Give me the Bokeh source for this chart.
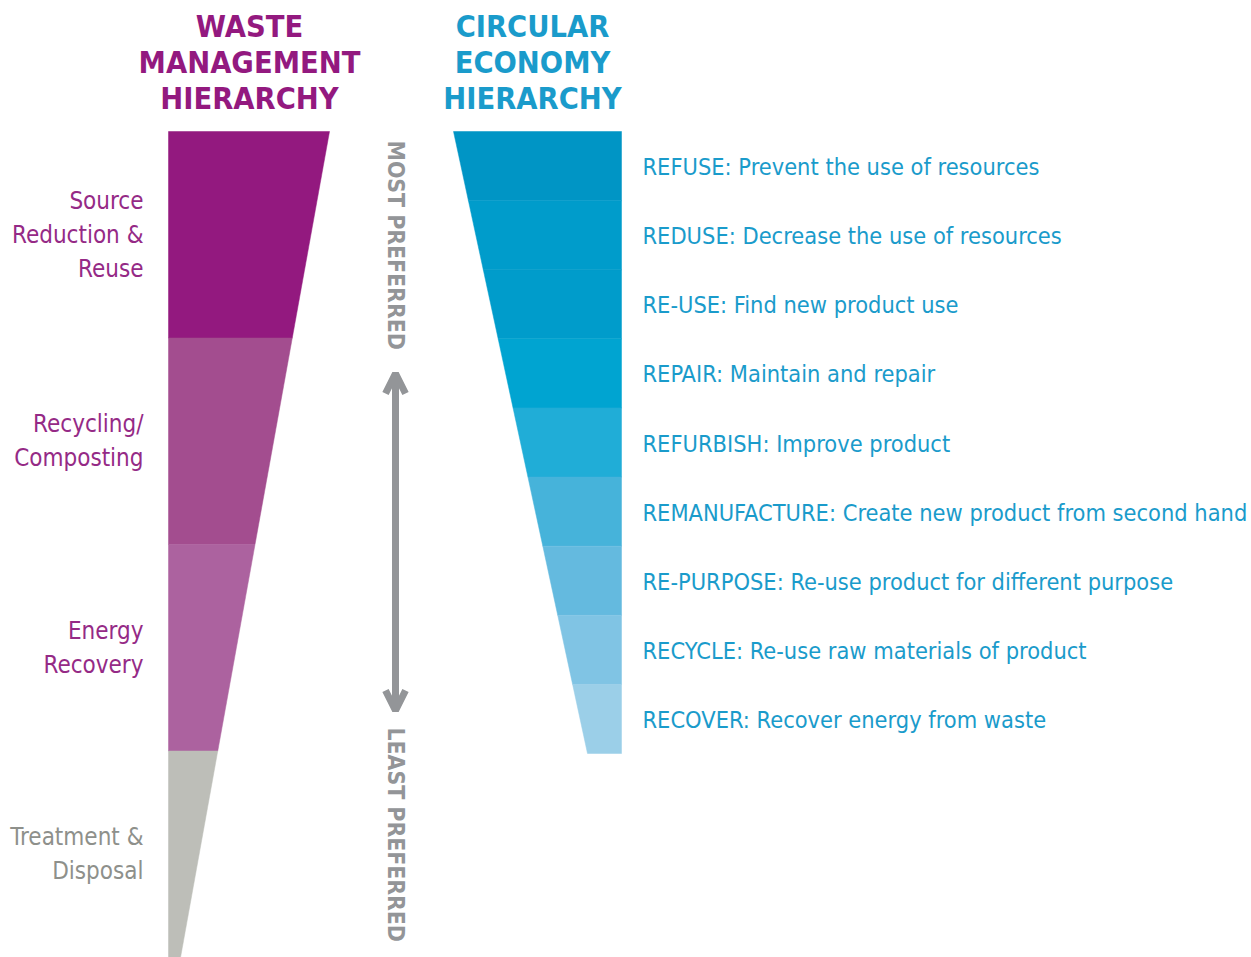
import numpy as np
from bokeh.plotting import figure
from bokeh.models import Range1d, Arrow, OpenHead
from bokeh.core.properties import value
from bokeh.embed import file_html
from bokeh.resources import INLINE

# ---------------- data ----------------
waste_title = ["WASTE", "MANAGEMENT", "HIERARCHY"]
circular_title = ["CIRCULAR", "ECONOMY", "HIERARCHY"]

waste_levels = [
    ["Source", "Reduction &", "Reuse"],
    ["Recycling/", "Composting"],
    ["Energy", "Recovery"],
    ["Treatment &", "Disposal"],
]
waste_colors = ["#93197F", "#A34D8F", "#AC629F", "#BDBEB8"]
waste_text_colors = ["#952A86", "#952A86", "#952A86", "#8E908B"]

circular_levels = [
    "REFUSE: Prevent the use of resources",
    "REDUSE: Decrease the use of resources",
    "RE-USE: Find new product use",
    "REPAIR: Maintain and repair",
    "REFURBISH: Improve product",
    "REMANUFACTURE: Create new product from second hand",
    "RE-PURPOSE: Re-use product for different purpose",
    "RECYCLE: Re-use raw materials of product",
    "RECOVER: Recover energy from waste",
]
circular_colors = ["#0095C5", "#009CCB", "#009CCB", "#00A4D1", "#20ADD7",
                   "#46B3DA", "#64BADF", "#80C4E4", "#9BCFE8"]

most_label = "MOST PREFERRED"
least_label = "LEAST PREFERRED"

# ---------------- styles / layout ----------------
FONT = "DejaVu Sans Condensed, Liberation Sans, sans-serif"
PURPLE = "#93197F"
BLUE = "#1A9BCB"
GREY = "#939598"

W, H = 1251, 957
p = figure(width=W, height=H, x_range=Range1d(0, W), y_range=Range1d(H, 0),
           output_backend="svg", toolbar_location=None,
           x_axis_type=None, y_axis_type=None, min_border=0)
p.outline_line_color = None
p.background_fill_color = "white"

# left funnel (waste management)
L_top, L_bot, L_left, L_rtop, L_rbot = 131, 957, 168, 329, 180
def lx(y):
    return L_rtop + (L_rbot - L_rtop) * (y - L_top) / (L_bot - L_top)
n = len(waste_levels)
bh = (L_bot - L_top) / n
xs, ys = [], []
for i in range(n):
    y0, y1 = L_top + i * bh, L_top + (i + 1) * bh
    xs.append([L_left, lx(y0), lx(y1), L_left])
    ys.append([y0, y0, y1, y1])
p.patches(xs, ys, fill_color=waste_colors, line_color=waste_colors, line_width=0.5)

# left labels
lab_x, lab_y, lab_t, lab_c = [], [], [], []
for i, lines in enumerate(waste_levels):
    c = L_top + (i + 0.5) * bh
    m = len(lines)
    for j, t in enumerate(lines):
        lab_x.append(143)
        lab_y.append(c + (j - (m - 1) / 2) * 34)
        lab_t.append(t)
        lab_c.append(waste_text_colors[i])
p.text(lab_x, lab_y, text=lab_t, text_color=lab_c, text_font=value(FONT),
       text_font_size="24px", text_align="right", text_baseline="middle")

# right funnel (circular economy)
R_top, R_bot, R_right, R_ltop, R_lbot = 131, 753, 621, 453, 587
def rx(y):
    return R_ltop + (R_lbot - R_ltop) * (y - R_top) / (R_bot - R_top)
m = len(circular_levels)
bh2 = (R_bot - R_top) / m
xs, ys = [], []
for i in range(m):
    y0, y1 = R_top + i * bh2, R_top + (i + 1) * bh2
    xs.append([rx(y0), R_right, R_right, rx(y1)])
    ys.append([y0, y0, y1, y1])
p.patches(xs, ys, fill_color=circular_colors, line_color=circular_colors, line_width=0.5)

p.text([642] * m, [R_top + (i + 0.5) * bh2 + 1 for i in range(m)], text=circular_levels,
       text_color=BLUE, text_font=value(FONT), text_font_size="23.4px",
       text_align="left", text_baseline="middle")

# titles
ty = [26, 62, 98]
p.text([249] * 3, ty, text=waste_title, text_color=PURPLE, text_font=value(FONT),
       text_font_style="bold", text_font_size="30.5px", text_align="center",
       text_baseline="middle")
p.text([532] * 3, ty, text=circular_title, text_color=BLUE, text_font=value(FONT),
       text_font_style="bold", text_font_size="30.5px", text_align="center",
       text_baseline="middle")

# preference arrow and labels
p.text([395], [140], text=[most_label], angle=-np.pi / 2, text_color=GREY,
       text_font=value(FONT), text_font_style="bold", text_font_size="22.8px",
       text_align="left", text_baseline="middle")
p.text([395], [727], text=[least_label], angle=-np.pi / 2, text_color=GREY,
       text_font=value(FONT), text_font_style="bold", text_font_size="22.8px",
       text_align="left", text_baseline="middle")
p.add_layout(Arrow(x_start=395, y_start=710, x_end=395, y_end=373,
                   start=OpenHead(size=20, line_width=7, line_color=GREY),
                   end=OpenHead(size=20, line_width=7, line_color=GREY),
                   line_width=7, line_color=GREY))

open("out.html", "w").write(file_html(p, INLINE))
